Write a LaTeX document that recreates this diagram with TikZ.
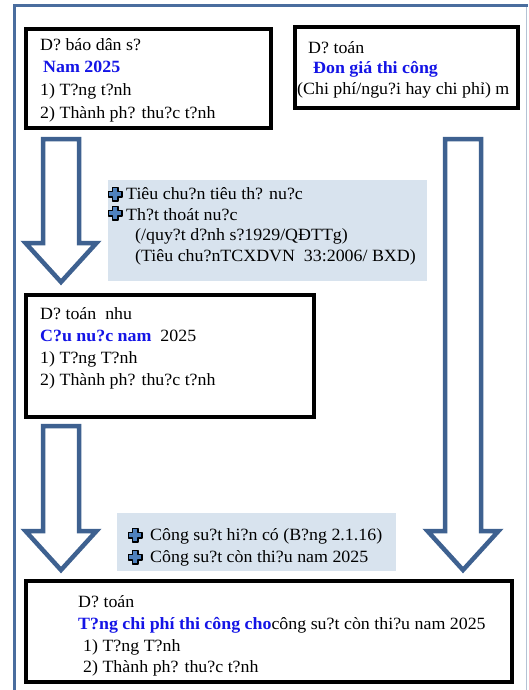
\documentclass[tikz,border=0pt]{standalone}
\usepackage{fontspec}
\setmainfont[FakeStretch=1.04]{Liberation Serif}
\usepackage{tikz}
\usetikzlibrary{calc}
\definecolor{frameblue}{HTML}{4A6D9E}
\definecolor{framegrey}{HTML}{B4C2D4}
\definecolor{arrowblue}{HTML}{3E6190}
\definecolor{notefill}{HTML}{D8E3EE}
\definecolor{titleblue}{HTML}{1414E6}
\definecolor{plusblue}{HTML}{4F81BD}

% hollow block arrow pointing down: #1 top centre, #2 tip
\newcommand{\bigdownarrow}[2]{%
  \draw[blockarrow] let \p1=(#1), \p2=(#2) in
    (\x1-18pt,\y1) -- (\x1+18pt,\y1) -- (\x1+18pt,\y2+39pt)
    -- (\x1+35.5pt,\y2+39pt) -- (\x1,\y2) -- (\x1-35.5pt,\y2+39pt)
    -- (\x1-18pt,\y2+39pt) -- cycle;}
% small cross bullet
\newcommand{\plusicon}[1]{%
  \draw[plusmark] (#1) ++(-2.6,-6.6) -- ++(5.2,0) -- ++(0,4) -- ++(4,0)
    -- ++(0,5.2) -- ++(-4,0) -- ++(0,4) -- ++(-5.2,0) -- ++(0,-4)
    -- ++(-4,0) -- ++(0,-5.2) -- ++(4,0) -- cycle;}

\begin{document}
\begin{tikzpicture}[
  x=1pt, y=-1pt,
  mainbox/.style={draw=black, line width=4pt, anchor=north west, inner sep=0pt,
    outer sep=0pt},
  notebox/.style={fill=notefill, anchor=north west, inner sep=0pt, outer sep=0pt},
  boxtext/.style={anchor=north west, inner sep=0pt, align=left,
    font=\fontsize{17.2}{22}\selectfont},
  blockarrow/.style={draw=arrowblue, line width=4.5pt, fill=white, line join=miter},
  plusmark/.style={draw=black, fill=plusblue, line width=1.8pt, line join=round},
  framethick/.style={draw=frameblue, line width=3.5pt},
  framethin/.style={draw=framegrey, line width=1pt}
]
\useasboundingbox[fill=white] (0,0) rectangle (528,690);
% outer frame
\draw[framethin] (526.8,5.5) -- (526.8,690);
\draw[framethick] (14.5,690) -- (14.5,5.5) -- (528,5.5);
% top row
\node[mainbox, minimum width=245pt, minimum height=99pt] (forecast) at (26,29) {};
\node[boxtext, font=\fontsize{17.2}{22.8}\selectfont] (forecasttxt) at (40,37)
  {\rule{0pt}{13pt}D? báo dân s?\\
   \hspace*{3pt}{\bfseries\color{titleblue}Nam 2025}\\
   1) T?ng t?nh\\
   2) Thành ph? thu?c t?nh};
\node[mainbox, minimum width=223pt, minimum height=81pt] (cost) at (295,27) {};
\begin{scope}
  \clip (cost.north west) rectangle (cost.south east);
  \node[boxtext, font=\fontsize{17.2}{20.5}\selectfont] (costtxt) at (297,40.3)
    {\rule{0pt}{13pt}\hspace*{11pt}D? toán\\
     \hspace*{16pt}{\bfseries\color{titleblue}Đon giá thi công}\\
     (Chi phí/ngu?i hay chi phỉ) m};
\end{scope}
\draw[black, line width=4pt] (cost.north west) rectangle (cost.south east);
% norms note
\node[notebox, minimum width=319pt, minimum height=101pt] (norms) at (108,180) {};
\node[boxtext, font=\fontsize{17.2}{20.5}\selectfont] (normstxt) at (126,186.3)
  {\rule{0pt}{13pt}Tiêu chu?n tiêu th? nu?c\\
   Th?t thoát nu?c\\
   \hspace*{9pt}(/quy?t d?nh s?1929/QĐTTg)\\
   \hspace*{9pt}(Tiêu chu?nTCXDVN\ \ 33:2006/ BXD)};
\plusicon{115,194}
\plusicon{115,213}
% demand box
\node[mainbox, minimum width=288pt, minimum height=122pt] (demand) at (26,295) {};
\node[boxtext] (demandtxt) at (40,306.3)
  {\rule{0pt}{13pt}D? toán\ \ nhu\\
   {\bfseries\color{titleblue}C?u nu?c\ nam}\ \ 2025\\
   1) T?ng T?nh\\
   2) Thành ph? thu?c t?nh};
% capacity note
\node[notebox, minimum width=279pt, minimum height=58pt] (capacity) at (117,513) {};
\node[boxtext] (capacitytxt) at (150,527.7)
  {\rule{0pt}{13pt}Công su?t hi?n có (B?ng 2.1.16)\\
   Công su?t còn thi?u nam 2025};
\plusicon{135,535}
\plusicon{135,557}
% total box
\node[mainbox, minimum width=486pt, minimum height=101.5pt] (total) at (26,580.5) {};
\node[boxtext, font=\fontsize{17.2}{21.8}\selectfont] (totaltxt) at (78,594.3)
  {\rule{0pt}{13pt}D? toán\\
   {\bfseries\color{titleblue}T?ng chi phí\ thi công cho}công su?t còn thi?u nam 2025\\
   \hspace*{5pt}1) T?ng T?nh\\
   \hspace*{5pt}2) Thành ph? thu?c t?nh};
% block arrows
\coordinate (leftx) at (61,0);
\coordinate (rightx) at (463,0);
\bigdownarrow{$(forecast.south -| leftx)+(0,11)$}{$(demand.north -| leftx)+(0,-13)$}
\bigdownarrow{$(demand.south -| leftx)+(0,9)$}{$(total.north -| leftx)+(0,-10.5)$}
\bigdownarrow{$(cost.south -| rightx)+(0,31)$}{$(total.north -| rightx)+(0,-10.5)$}
\end{tikzpicture}
\end{document}
